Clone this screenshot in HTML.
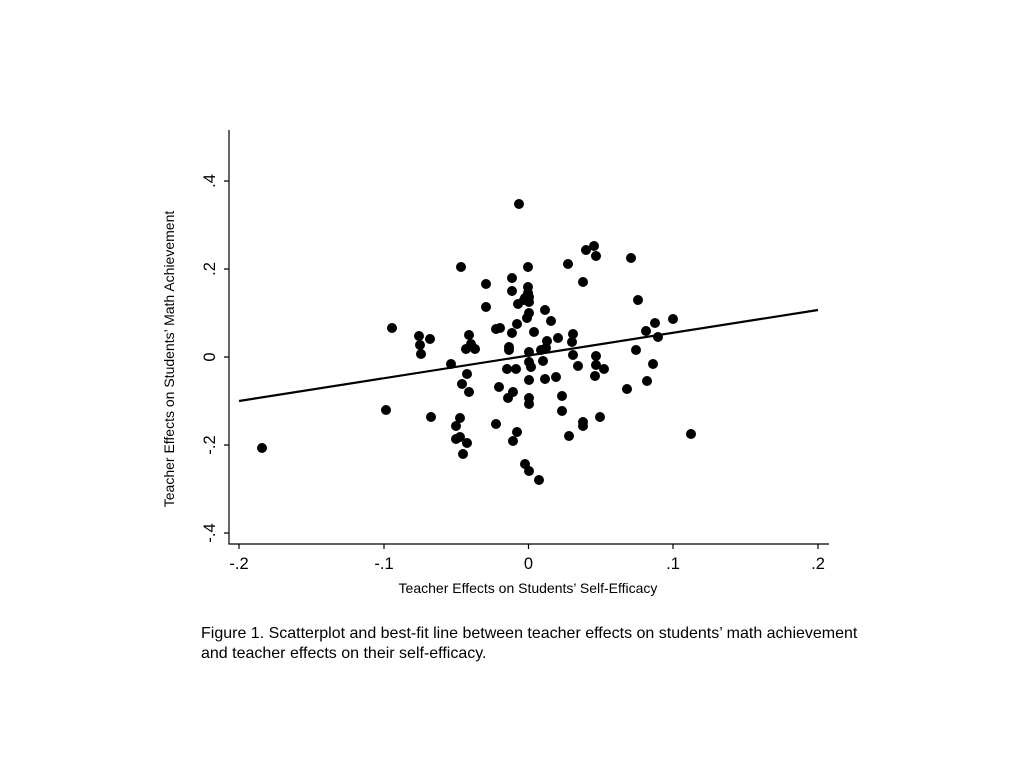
<!DOCTYPE html>
<html><head><style>body{margin:0;background:#fff}svg{display:block}</style></head><body>
<svg width="1024" height="768" xmlns="http://www.w3.org/2000/svg" font-family="Liberation Sans, sans-serif">
<rect width="1024" height="768" fill="#fff"/>
<g stroke="#000" stroke-width="1.2" fill="none">
<path d="M229 130V544H829"/>
<path d="M229 181h-5M229 269h-5M229 357h-5M229 445h-5M229 533h-5"/>
<path d="M239 544v5M384 544v5M528.5 544v5M673 544v5M818 544v5"/>
</g>
<g font-size="16.5" fill="#000" text-anchor="middle">
<text transform="translate(215,181) rotate(-90)">.4</text>
<text transform="translate(215,269) rotate(-90)">.2</text>
<text transform="translate(215,357) rotate(-90)">0</text>
<text transform="translate(215,445) rotate(-90)">-.2</text>
<text transform="translate(215,533) rotate(-90)">-.4</text>
<text x="239" y="569">-.2</text>
<text x="384" y="569">-.1</text>
<text x="528.5" y="569">0</text>
<text x="673" y="569">.1</text>
<text x="818" y="569">.2</text>
</g>
<text x="528" y="593" font-size="14" text-anchor="middle">Teacher Effects on Students’ Self-Efficacy</text>
<text transform="translate(174,359) rotate(-90)" font-size="14" text-anchor="middle">Teacher Effects on Students’ Math Achievement</text>
<g fill="#000">
<circle cx="262" cy="448" r="5"/><circle cx="392" cy="328" r="5"/><circle cx="386" cy="410" r="5"/><circle cx="419" cy="336" r="5"/><circle cx="420" cy="345" r="5"/><circle cx="421" cy="354" r="5"/><circle cx="430" cy="339" r="5"/><circle cx="431" cy="417" r="5"/><circle cx="451" cy="364" r="5"/><circle cx="461" cy="267" r="5"/><circle cx="462" cy="384" r="5"/><circle cx="466" cy="349" r="5"/><circle cx="469" cy="335" r="5"/><circle cx="471" cy="344" r="5"/><circle cx="467" cy="374" r="5"/><circle cx="475" cy="349" r="5"/><circle cx="469" cy="392" r="5"/><circle cx="460" cy="418" r="5"/><circle cx="456" cy="426" r="5"/><circle cx="460" cy="437" r="5"/><circle cx="456" cy="439" r="5"/><circle cx="467" cy="443" r="5"/><circle cx="463" cy="454" r="5"/><circle cx="486" cy="284" r="5"/><circle cx="486" cy="307" r="5"/><circle cx="496" cy="329" r="5"/><circle cx="500" cy="328" r="5"/><circle cx="499" cy="387" r="5"/><circle cx="496" cy="424" r="5"/><circle cx="507" cy="369" r="5"/><circle cx="508" cy="398" r="5"/><circle cx="509" cy="350" r="5"/><circle cx="509" cy="347" r="5"/><circle cx="512" cy="333" r="5"/><circle cx="512" cy="291" r="5"/><circle cx="512" cy="278" r="5"/><circle cx="517" cy="324" r="5"/><circle cx="513" cy="392" r="5"/><circle cx="513" cy="441" r="5"/><circle cx="517" cy="432" r="5"/><circle cx="516" cy="369" r="5"/><circle cx="518" cy="304" r="5"/><circle cx="519" cy="204" r="5"/><circle cx="524" cy="300" r="5"/><circle cx="525" cy="298" r="5"/><circle cx="528" cy="267" r="5"/><circle cx="528" cy="293" r="5"/><circle cx="529" cy="297" r="5"/><circle cx="528" cy="287" r="5"/><circle cx="529" cy="302" r="5"/><circle cx="527" cy="318" r="5"/><circle cx="529" cy="313" r="5"/><circle cx="529" cy="352" r="5"/><circle cx="529" cy="362" r="5"/><circle cx="531" cy="367" r="5"/><circle cx="529" cy="380" r="5"/><circle cx="529" cy="398" r="5"/><circle cx="529" cy="404" r="5"/><circle cx="525" cy="464" r="5"/><circle cx="529" cy="471" r="5"/><circle cx="539" cy="480" r="5"/><circle cx="534" cy="332" r="5"/><circle cx="541" cy="350" r="5"/><circle cx="543" cy="361" r="5"/><circle cx="546" cy="348" r="5"/><circle cx="547" cy="341" r="5"/><circle cx="545" cy="310" r="5"/><circle cx="551" cy="321" r="5"/><circle cx="545" cy="379" r="5"/><circle cx="556" cy="377" r="5"/><circle cx="558" cy="338" r="5"/><circle cx="562" cy="396" r="5"/><circle cx="562" cy="411" r="5"/><circle cx="568" cy="264" r="5"/><circle cx="573" cy="334" r="5"/><circle cx="572" cy="342" r="5"/><circle cx="573" cy="355" r="5"/><circle cx="569" cy="436" r="5"/><circle cx="578" cy="366" r="5"/><circle cx="583" cy="422" r="5"/><circle cx="583" cy="426" r="5"/><circle cx="583" cy="282" r="5"/><circle cx="586" cy="250" r="5"/><circle cx="594" cy="246" r="5"/><circle cx="596" cy="256" r="5"/><circle cx="596" cy="356" r="5"/><circle cx="596" cy="365" r="5"/><circle cx="595" cy="376" r="5"/><circle cx="600" cy="417" r="5"/><circle cx="604" cy="369" r="5"/><circle cx="627" cy="389" r="5"/><circle cx="631" cy="258" r="5"/><circle cx="636" cy="350" r="5"/><circle cx="638" cy="300" r="5"/><circle cx="646" cy="331" r="5"/><circle cx="647" cy="381" r="5"/><circle cx="653" cy="364" r="5"/><circle cx="655" cy="323" r="5"/><circle cx="658" cy="337" r="5"/><circle cx="673" cy="319" r="5"/><circle cx="691" cy="434" r="5"/>
</g>
<line x1="239" y1="401" x2="818" y2="310" stroke="#000" stroke-width="2.2"/>
<text x="201" y="638" font-size="16">Figure 1. Scatterplot and best-fit line between teacher effects on students’ math achievement</text>
<text x="201" y="658" font-size="16">and teacher effects on their self-efficacy.</text>
</svg>
</body></html>
